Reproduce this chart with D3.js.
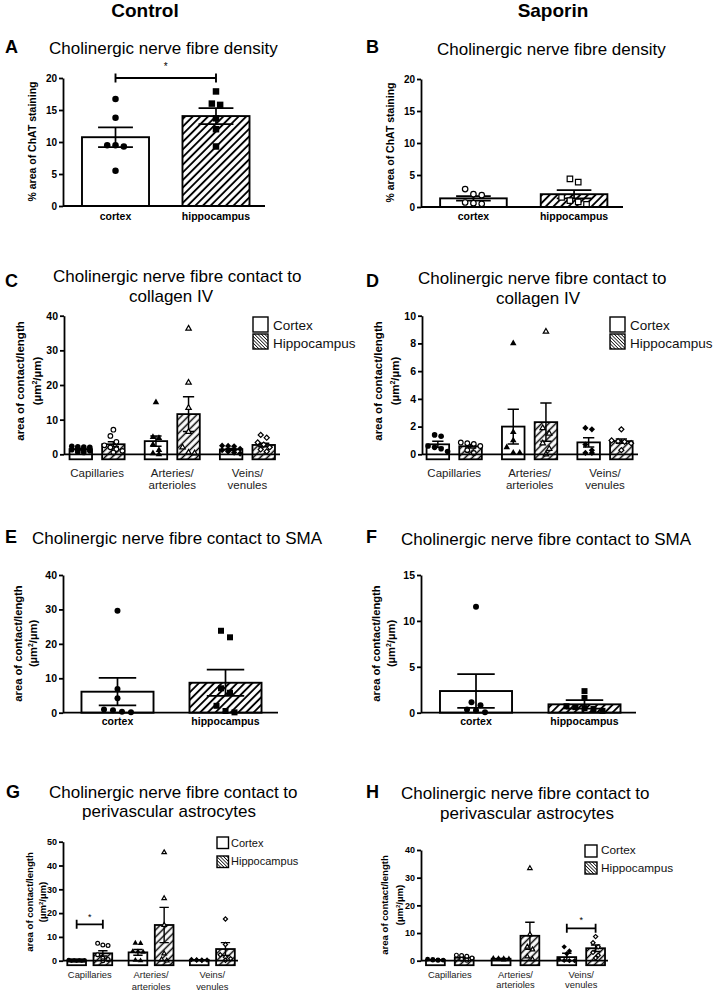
<!DOCTYPE html>
<html><head><meta charset="utf-8">
<script src="https://cdn.jsdelivr.net/npm/d3@7"></script>
<style>
body{margin:0;background:#fff}
svg{display:block}
text{font-family:"Liberation Sans",Arial,Helvetica,sans-serif}
</style>
</head><body>
<svg id="chart" width="717" height="992"></svg>
<script>
// ================= DATA =================
const regions = ["cortex", "hippocampus"];
const vessels = ["Capillaries", "Arteries/arterioles", "Veins/venules"];
const vesselLines = [["Capillaries"], ["Arteries/", "arterioles"], ["Veins/", "venules"]];
const legendNames = ["Cortex", "Hippocampus"];
const columnTitles = ["Control", "Saporin"];
const panelLetters = ["A", "B", "C", "D", "E", "F", "G", "H"];

const titleDensity = ["Cholinergic nerve fibre density"];
const titleCollagen = ["Cholinergic nerve fibre contact to", "collagen IV"];
const titleSMA = ["Cholinergic nerve fibre contact to SMA"];
const titleAstro = ["Cholinergic nerve fibre contact to", "perivascular astrocytes"];
const yLabelDensity = ["% area of ChAT staining"];
const yLabelContact = ["area of contact/length", "UNIT"];

// Panel A (Control, density)
const ticksA = [0, 5, 10, 15, 20];
const meanA = [10.75, 14.05];
const semA = [1.55, 1.25];
const pointsA = [[16.7, 13.8, 9.5, 9.3, 9.5, 5.5], [17.9, 16.0, 15.8, 13.7, 12.0, 9.3]];
const sigA = { from: "cortex", to: "hippocampus", level: 20, label: "*" };

// Panel B (Saporin, density)
const ticksB = [0, 5, 10, 15, 20];
const meanB = [1.35, 2.0];
const semB = [0.35, 0.65];
const pointsB = [[2.8, 2.0, 1.85, 0.7, 0.5, 0.6], [4.4, 3.9, 1.5, 1.0, 0.8, 0.4]];

// Panel C (Control, collagen IV)
const ticksC = [0, 10, 20, 30, 40];
const meanC_cortex = [1.5, 3.8, 1.4];
const semC_cortex = [0.25, 1.5, 0.3];
const meanC_hippo = [2.9, 11.6, 2.7];
const semC_hippo = [0.7, 5.0, 0.5];
const pointsC_cortex = [[2.3, 2.2, 2.1, 2.0, 1.3, 1.2, 1.1, 1.0, 0.6, 0.5], [15.0, 5.0, 4.7, 2.8, 1.2, 0.3, 0.0], [2.5, 2.4, 2.3, 1.6, 1.2, 0.8, 0.5, 0.2]];
const pointsC_hippo = [[7.1, 5.3, 3.6, 2.6, 2.0, 1.5, 1.0, 0.5], [36.3, 20.7, 13.4, 6.5, 2.0, 0.5, 0.3], [5.6, 4.8, 3.4, 2.8, 2.0, 1.4, 0.8]];

// Panel D (Saporin, collagen IV)
const ticksD = [0, 2, 4, 6, 8, 10];
const meanD_cortex = [0.72, 2.0, 0.86];
const semD_cortex = [0.22, 1.25, 0.33];
const meanD_hippo = [0.58, 2.32, 0.95];
const semD_hippo = [0.12, 1.38, 0.15];
const pointsD_cortex = [[1.4, 1.3, 0.6, 0.5, 0.4, 0.2], [8.0, 1.6, 1.0, 0.5, 0.1, 0.1], [1.8, 1.9, 0.7, 0.3, 0.1, 0.1]];
const pointsD_hippo = [[0.85, 0.8, 0.75, 0.6, 0.3, 0.1], [8.85, 1.9, 1.5, 0.8, 0.4, 0.0], [1.8, 1.0, 0.95, 0.9, 0.8, 0.3]];

// Panel E (Control, SMA)
const ticksE = [0, 10, 20, 30, 40];
const meanE = [6.1, 8.7];
const semE = [4.0, 3.8];
const pointsE = [[29.6, 6.9, 4.2, 0.7, 0.1, 0.3, 0.9], [23.8, 21.9, 7.1, 5.8, 2.0, 0.5, 0.1]];

// Panel F (Saporin, SMA)
const ticksF = [0, 5, 10, 15];
const meanF = [2.36, 0.91];
const semF = [1.84, 0.47];
const pointsF = [[11.55, 1.15, 0.8, 0.35, 0.05, 0.25], [2.35, 1.6, 0.7, 0.5, 0.4, 0.2, 0.6]];

// Panel G (Control, astrocytes)
const ticksG = [0, 10, 20, 30, 40, 50];
const meanG_cortex = [0.1, 3.5, 0.3];
const semG_cortex = [0.05, 1.2, 0.1];
const meanG_hippo = [3.1, 15.0, 4.9];
const semG_hippo = [1.1, 7.4, 2.7];
const pointsG_cortex = [[0.2, 0.1, 0.1, 0.0, 0.0, 0.1, 0.0], [7.3, 7.4, 3.8, 3.6, 3.9, 0.2, 0.0], [0.5, 0.4, 0.3, 0.2, 0.3, 0.1]];
const pointsG_hippo = [[7.3, 6.6, 6.4, 2.5, 1.0, 0.5, 0.0], [45.5, 26.2, 15.0, 3.0, 0.5, 0.0], [17.5, 6.8, 2.5, 1.5, 0.8, 0.2]];
const sigG = { group: "Capillaries", level: 15.3, label: "*" };

// Panel H (Saporin, astrocytes)
const ticksH = [0, 10, 20, 30, 40];
const meanH_cortex = [0.3, 0.7, 1.3];
const semH_cortex = [0.1, 0.15, 1.4];
const meanH_hippo = [1.1, 9.0, 4.5];
const semH_hippo = [0.35, 4.9, 1.2];
const pointsH_cortex = [[0.6, 0.5, 0.3, 0.2, 0.2, 0.1], [0.9, 0.8, 0.8, 0.7, 0.6, 0.3], [5.0, 3.5, 2.5, 0.5, 0.1, 0.0, 0.0]];
const pointsH_hippo = [[2.0, 1.9, 1.6, 1.0, 0.5, 0.2], [33.4, 9.5, 5.0, 4.0, 1.5, 0.5], [8.7, 6.5, 5.0, 3.0, 2.0, 1.0]];
const sigH = { group: "Veins/venules", level: 11.7, label: "*" };

// ================= DRAWING =================
const svg = d3.select("#chart");
const defs = svg.append("defs");
function hatch(id, w, sw, angle) {
  const p = defs.append("pattern").attr("id", id).attr("patternUnits", "userSpaceOnUse")
    .attr("width", w).attr("height", w).attr("patternTransform", `rotate(${angle})`);
  p.append("rect").attr("width", w).attr("height", w).attr("fill", "#fff");
  p.append("line").attr("x1", w / 2).attr("x2", w / 2).attr("y1", -1).attr("y2", w + 1)
    .attr("stroke", "#000").attr("stroke-width", sw);
}
hatch("hatchBig", 5.4, 1.9, 45);
hatch("hatchSmall", 5.0, 1.5, 45);
hatch("hatchLeg", 2.4, 0.75, -45);

function text(x, y, s, fs, o = {}) {
  return svg.append("text").attr("x", x).attr("y", y).text(s)
    .attr("font-size", fs).attr("font-weight", o.bold ? "bold" : "normal")
    .attr("text-anchor", o.anchor || "start").attr("fill", o.fill || "#000");
}

function symbolPath(shape, ms) {
  if (shape === "circle") return d3.symbol().type(d3.symbolCircle).size(Math.PI * ms * ms / 4)();
  if (shape === "square") return d3.symbol().type(d3.symbolSquare).size(ms * ms)();
  if (shape === "triangle") return d3.symbol().type(d3.symbolTriangle).size(0.6 * ms * ms)();
  return d3.symbol().type(d3.symbolSquare).size(0.62 * ms * ms)(); // diamond, rotated later
}

function swarm(vals, y, ms, sp, maxPerRow) {
  const sorted = vals.slice().sort((a, b) => b - a);
  const rows = [];
  sorted.forEach(v => {
    const py = y(v);
    const last = rows[rows.length - 1];
    if (last && Math.abs(py - last.y0) < ms * 1.1 && last.items.length < maxPerRow) last.items.push({ v, py });
    else rows.push({ y0: py, items: [{ v, py }] });
  });
  const out = [];
  rows.forEach(r => {
    const m = r.items.length;
    r.items.forEach((it, j) => out.push({ v: it.v, py: it.py, dx: (j - (m - 1) / 2) * sp }));
  });
  return out;
}

function yLabel(cfg, lines) {
  lines.forEach((ln, i) => {
    const t = svg.append("text")
      .attr("transform", `translate(${cfg.ylabX[i]},${cfg.ylabY}) rotate(-90)`)
      .attr("text-anchor", "middle").attr("font-size", cfg.ylabFs).attr("font-weight", "bold");
    if (ln === "UNIT") {
      t.append("tspan").text("(\u00b5m");
      t.append("tspan").text("2").attr("font-size", cfg.ylabFs * 0.62).attr("dy", -cfg.ylabFs * 0.38);
      t.append("tspan").text("/\u00b5m)").attr("dy", cfg.ylabFs * 0.38);
    } else t.text(ln);
  });
}

function yAxis(cfg, y, ticks) {
  const ax = svg.append("g").attr("transform", `translate(${cfg.axisX},0)`)
    .call(d3.axisLeft(y).tickValues(ticks).tickSize(cfg.tickLen).tickSizeOuter(0).tickPadding(cfg.tickPad));
  ax.select(".domain").attr("stroke", "#000").attr("stroke-width", cfg.axisW);
  ax.selectAll(".tick line").attr("stroke", "#000").attr("stroke-width", cfg.axisW);
  ax.selectAll(".tick text").attr("font-size", cfg.tickFs).attr("font-weight", "bold")
    .attr("fill", "#000").attr("font-family", '"Liberation Sans",Arial,sans-serif');
}

function drawBar(x, w, yTop, yBot, hatched, cfg) {
  svg.append("rect").attr("x", x).attr("y", yTop).attr("width", w).attr("height", Math.max(0, yBot - yTop))
    .attr("fill", hatched ? `url(#${cfg.hatchId})` : "#fff")
    .attr("stroke", "#000").attr("stroke-width", cfg.barW);
}

function drawErr(cx, w, yHi, yLo, cfg) {
  const c = w * cfg.capFrac / 2;
  svg.append("path")
    .attr("d", `M${cx},${yHi}V${yLo}M${cx - c},${yHi}H${cx + c}M${cx - c},${yLo}H${cx + c}`)
    .attr("fill", "none").attr("stroke", "#000").attr("stroke-width", cfg.errW);
}

function drawPoints(cx, vals, y, shape, open, cfg, bw) {
  const maxPerRow = Math.max(2, Math.floor(bw * 1.05 / cfg.sp) + 1);
  const pts = swarm(vals, y, cfg.ms, cfg.sp, maxPerRow);
  const path = symbolPath(shape, open ? cfg.ms - 1 : cfg.ms);
  pts.forEach(p => {
    svg.append("path").attr("d", path)
      .attr("transform", `translate(${cx + p.dx},${p.py})${shape === "diamond" ? " rotate(45)" : ""}`)
      .attr("fill", open ? "#fff" : "#000").attr("stroke", "#000").attr("stroke-width", open ? 1.2 : 0);
  });
}

function bracket(x1, x2, yb, label, cfg) {
  const t = cfg.brTick;
  svg.append("path").attr("d", `M${x1},${yb - t}V${yb + t}M${x1},${yb}H${x2}M${x2},${yb - t}V${yb + t}`)
    .attr("fill", "none").attr("stroke", "#000").attr("stroke-width", cfg.brW);
  text((x1 + x2) / 2, yb - cfg.starGap, label, cfg.starFs, { anchor: "middle" });
}

function titles(cfg, lines) {
  text(cfg.letterX, cfg.letterY, cfg.letter, cfg.letterFs, { bold: true });
  lines.forEach((ln, i) => {
    const t = cfg.titles[i];
    text(t[0], t[1], ln, cfg.titleFs, { anchor: t[2] });
  });
}

// ---- simple two-bar panels (A, B, E, F) ----
function simplePanel(cfg, ticks, means, sems, points, shapes, open, titleLines, ylabLines, sig) {
  titles(cfg, titleLines);
  const y = d3.scaleLinear().domain([0, ticks[ticks.length - 1]]).range([cfg.y0, cfg.yTop]);
  const x = d3.scaleBand().domain(regions).range(cfg.band).paddingInner(cfg.pi).paddingOuter(cfg.po);
  const bw = x.bandwidth();
  regions.forEach((r, i) => {
    drawBar(x(r), bw, y(means[i]), y(0) + cfg.drop, i === 1, cfg);
  });
  regions.forEach((r, i) => {
    const cx = x(r) + bw / 2;
    drawErr(cx, bw, y(means[i] + sems[i]), y(means[i] - sems[i]), cfg);
    drawPoints(cx, points[i], y, shapes[i], open[i], cfg, bw);
  });
  yAxis(cfg, y, ticks);
  svg.append("line").attr("x1", cfg.axisX).attr("x2", cfg.xEnd).attr("y1", y(0)).attr("y2", y(0))
    .attr("stroke", "#000").attr("stroke-width", cfg.axisW);
  regions.forEach(r => text(x(r) + bw / 2, cfg.catY[0], r, cfg.catFs, { bold: true, anchor: "middle" }));
  yLabel(cfg, ylabLines);
  if (sig) bracket(x(sig.from) + bw / 2, x(sig.to) + bw / 2, y(sig.level), sig.label, cfg);
}

// ---- grouped panels (C, D, G, H) ----
const vesselShapes = ["circle", "triangle", "diamond"];
function groupedPanel(cfg, ticks, meansC, semsC, meansH, semsH, ptsC, ptsH, titleLines, sig) {
  titles(cfg, titleLines);
  const y = d3.scaleLinear().domain([0, ticks[ticks.length - 1]]).range([cfg.y0, cfg.yTop]);
  const xo = d3.scaleBand().domain(vessels).range(cfg.band).padding(0);
  const xi = d3.scaleBand().domain(regions).range([0, xo.bandwidth()]).paddingInner(cfg.pi).paddingOuter(cfg.po);
  const bw = xi.bandwidth();
  const series = [[meansC, semsC, ptsC], [meansH, semsH, ptsH]];
  vessels.forEach((v, k) => {
    regions.forEach((r, i) => {
      drawBar(xo(v) + xi(r), bw, y(series[i][0][k]), y(0) + cfg.drop, i === 1, cfg);
    });
  });
  vessels.forEach((v, k) => {
    regions.forEach((r, i) => {
      const cx = xo(v) + xi(r) + bw / 2;
      const m = series[i][0][k], s = series[i][1][k];
      drawErr(cx, bw, y(m + s), y(Math.max(m - s, 0)), cfg);
      drawPoints(cx, series[i][2][k], y, vesselShapes[k], i === 1, cfg, bw);
    });
  });
  yAxis(cfg, y, ticks);
  svg.append("line").attr("x1", cfg.axisX).attr("x2", cfg.xEnd).attr("y1", y(0)).attr("y2", y(0))
    .attr("stroke", "#000").attr("stroke-width", cfg.axisW);
  vessels.forEach((v, k) => {
    vesselLines[k].forEach((ln, j) => text(xo(v) + xo.bandwidth() / 2, cfg.catY[j], ln, cfg.catFs, { anchor: "middle", fill: "#222" }));
  });
  yLabel(cfg, yLabelContact);
  // legend
  legendNames.forEach((n, i) => {
    svg.append("rect").attr("x", cfg.leg.x).attr("y", cfg.leg.y[i]).attr("width", cfg.leg.s).attr("height", cfg.leg.s)
      .attr("fill", i ? "url(#hatchLeg)" : "#fff").attr("stroke", "#000").attr("stroke-width", 1.4);
    text(cfg.leg.tx, cfg.leg.ty[i], n, cfg.leg.fs, { fill: "#111" });
  });
  if (sig) {
    const x1 = xo(sig.group) + xi(regions[0]) + bw / 2;
    const x2 = xo(sig.group) + xi(regions[1]) + bw / 2;
    bracket(x1, x2, y(sig.level), sig.label, cfg);
  }
}

// ---- layout ----
text(145, 17, columnTitles[0], 19, { bold: true, anchor: "middle" });
text(553, 17, columnTitles[1], 19, { bold: true, anchor: "middle" });

const base = { tickLen: 4, tickPad: 2, axisW: 1.8, barW: 1.9, errW: 1.7, capFrac: 0.52, letterFs: 18, titleFs: 17,
  brTick: 4.5, brW: 1.9, starFs: 10, starGap: 8, hatchId: "hatchBig" };

const cfgA = Object.assign({}, base, { letter: "A", letterX: 5, letterY: 53, titles: [[49, 54, "start"]],
  axisX: 63, xEnd: 265, y0: 206, yTop: 78, band: [63, 268.5], pi: 0.333, po: 0.189, drop: 0,
  ms: 6.5, sp: 8.3, tickFs: 10, catFs: 10.5, catY: [220], ylabX: [35.7], ylabY: 141.5, ylabFs: 10.5 });
const cfgB = Object.assign({}, base, { letter: "B", letterX: 366, letterY: 53, titles: [[437, 55, "start"]],
  axisX: 421, xEnd: 623, y0: 207, yTop: 79, band: [421, 626.5], pi: 0.338, po: 0.19, drop: 0,
  ms: 6.5, sp: 8.3, tickFs: 10, catFs: 10.5, catY: [220], ylabX: [393.7], ylabY: 142.5, ylabFs: 10.5 });
const cfgE = Object.assign({}, base, { letter: "E", letterX: 5, letterY: 543, titles: [[32, 544, "start"]],
  axisX: 63, xEnd: 278, y0: 712.7, yTop: 575, band: [63, 280], pi: 0.333, po: 0.171, drop: 0,
  ms: 6, sp: 9, tickFs: 10.5, catFs: 10.5, catY: [725], ylabX: [22, 37], ylabY: 643.5, ylabFs: 11.2 });
const cfgF = Object.assign({}, base, { letter: "F", letterX: 366, letterY: 543, titles: [[401, 545, "start"]],
  axisX: 421, xEnd: 636, y0: 712.7, yTop: 575, band: [421, 639.5], pi: 0.336, po: 0.175, drop: 0,
  ms: 6, sp: 9, tickFs: 10.5, catFs: 10.5, catY: [725], ylabX: [380, 395], ylabY: 643.5, ylabFs: 11.2 });

const gbase = Object.assign({}, base, { barW: 1.8, errW: 1.5, capFrac: 0.5, hatchId: "hatchSmall" });
const cfgC = Object.assign({}, gbase, { letter: "C", letterX: 5, letterY: 287,
  titles: [[53, 282, "start"], [171, 302, "middle"]],
  axisX: 64, xEnd: 280, y0: 454.3, yTop: 315.7, band: [59.5, 285], pi: 0.31, po: 0.308, drop: 5,
  ms: 5.6, sp: 6, tickFs: 10.5, catFs: 11.5, catY: [476.5, 488.5], ylabX: [24, 41], ylabY: 381, ylabFs: 11.5,
  leg: { x: 253, y: [317, 334], s: 15, tx: 273, ty: [330, 348], fs: 13.5 } });
const cfgD = Object.assign({}, gbase, { letter: "D", letterX: 366, letterY: 287,
  titles: [[418, 284, "start"], [538, 304, "middle"]],
  axisX: 422, xEnd: 638, y0: 454.3, yTop: 315.7, band: [416.5, 642.7], pi: 0.31, po: 0.308, drop: 5,
  ms: 5.6, sp: 6.5, tickFs: 10.5, catFs: 11.5, catY: [476.5, 488.5], ylabX: [382, 399], ylabY: 381, ylabFs: 11.5,
  leg: { x: 610, y: [317, 334], s: 15, tx: 630, ty: [330, 348], fs: 13.5 } });
const cfgG = Object.assign({}, gbase, { letter: "G", letterX: 6, letterY: 798,
  titles: [[49, 798, "start"], [169, 817, "middle"]],
  axisX: 63, xEnd: 238, y0: 960.7, yTop: 841.7, band: [59.1, 243], pi: 0.286, po: 0.313, drop: 4.5,
  ms: 4.8, sp: 5.2, tickFs: 9, catFs: 9.4, catY: [978.3, 990], ylabX: [33.4, 46.4], ylabY: 902, ylabFs: 9.6,
  brW: 1.8, starFs: 9, starGap: 4.5, errW: 1.4,
  leg: { x: 217, y: [837, 856], s: 11.5, tx: 231, ty: [846.5, 865], fs: 11 } });
const cfgH = Object.assign({}, gbase, { letter: "H", letterX: 366, letterY: 798,
  titles: [[401, 799, "start"], [527, 819, "middle"]],
  axisX: 421, xEnd: 608, y0: 960.7, yTop: 850, band: [416.95, 614.05], pi: 0.347, po: 0.314, drop: 4.5,
  ms: 4.8, sp: 5.2, tickFs: 9, catFs: 9.4, catY: [977.7, 988], ylabX: [388.4, 403.4], ylabY: 905, ylabFs: 9.6,
  brW: 1.8, starFs: 9, starGap: 5, errW: 1.4,
  leg: { x: 585, y: [845, 862], s: 12, tx: 601, ty: [854.3, 871.7], fs: 11.8 } });

simplePanel(cfgA, ticksA, meanA, semA, pointsA, ["circle", "square"], [false, false], titleDensity, yLabelDensity, sigA);
simplePanel(cfgB, ticksB, meanB, semB, pointsB, ["circle", "square"], [true, true], titleDensity, yLabelDensity, null);
groupedPanel(cfgC, ticksC, meanC_cortex, semC_cortex, meanC_hippo, semC_hippo, pointsC_cortex, pointsC_hippo, titleCollagen, null);
groupedPanel(cfgD, ticksD, meanD_cortex, semD_cortex, meanD_hippo, semD_hippo, pointsD_cortex, pointsD_hippo, titleCollagen, null);
simplePanel(cfgE, ticksE, meanE, semE, pointsE, ["circle", "square"], [false, false], titleSMA, yLabelContact, null);
simplePanel(cfgF, ticksF, meanF, semF, pointsF, ["circle", "square"], [false, false], titleSMA, yLabelContact, null);
groupedPanel(cfgG, ticksG, meanG_cortex, semG_cortex, meanG_hippo, semG_hippo, pointsG_cortex, pointsG_hippo, titleAstro, sigG);
groupedPanel(cfgH, ticksH, meanH_cortex, semH_cortex, meanH_hippo, semH_hippo, pointsH_cortex, pointsH_hippo, titleAstro, sigH);
</script>
</body></html>
